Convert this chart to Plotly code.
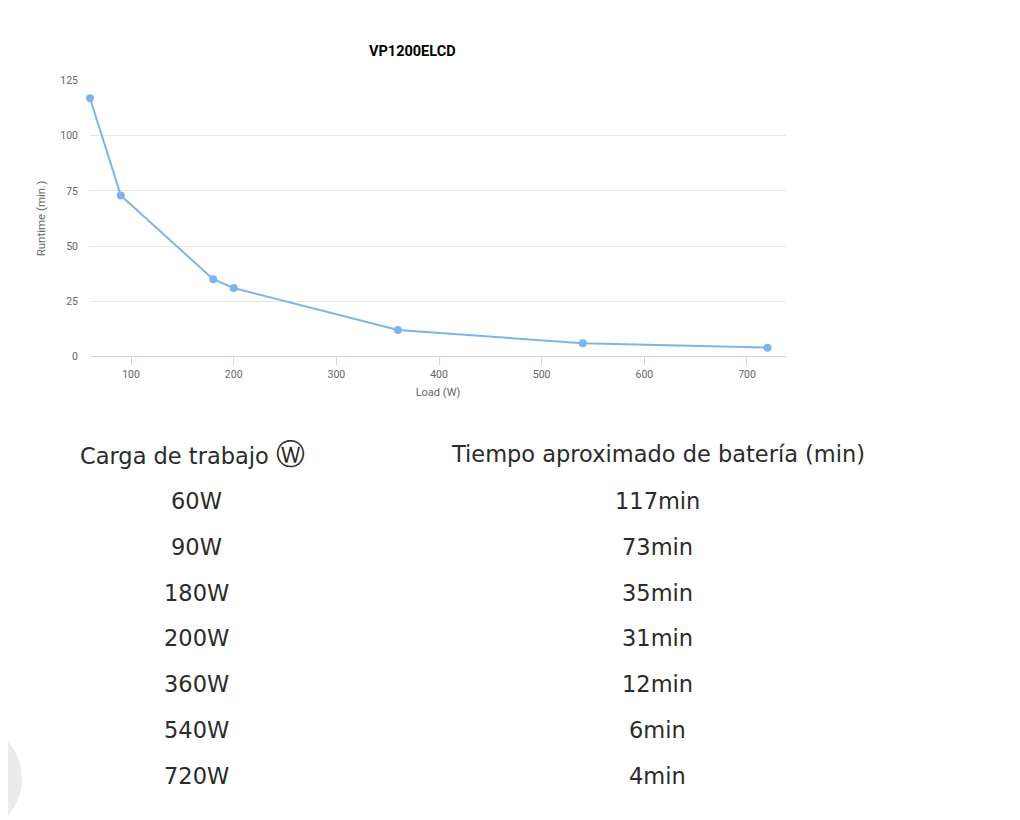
import plotly.graph_objects as go

title = "VP1200ELCD"
load_w = [60, 90, 180, 200, 360, 540, 720]
runtime_min = [117, 73, 35, 31, 12, 6, 4]
y_ticks = [0, 25, 50, 75, 100, 125]
x_ticks = [100, 200, 300, 400, 500, 600, 700]
header_left = "Carga de trabajo"
header_icon = "Ⓦ"
header_right = "Tiempo aproximado de batería (min)"
row_left = [f"{w}W" for w in load_w]
row_right = [f"{m}min" for m in runtime_min]

W, H = 1020, 820
OFF = 8  # page body margin

def px(x):
    return (x - OFF) / W

def py(y):
    return 1 - (y - OFF) / H

fig = go.Figure()
fig.add_trace(go.Scatter(
    x=load_w, y=runtime_min, mode="lines+markers",
    line=dict(color="#7cb5ec", width=2),
    marker=dict(color="#7cb5ec", size=8),
    cliponaxis=False, showlegend=False,
))

tick_font = dict(family="Roboto", size=10.5, color="#666666")
fig.update_layout(
    width=W, height=H,
    margin=dict(l=0, r=0, t=0, b=0),
    paper_bgcolor="white", plot_bgcolor="white",
    xaxis=dict(
        domain=[px(90), px(786)], range=[60, 738],
        tickvals=x_ticks, ticks="outside", ticklen=8, tickcolor="#ccd6eb",
        showline=True, linecolor="#ccd6eb", linewidth=1,
        showgrid=False, zeroline=False, tickfont=tick_font,
        title=dict(text="Load (W)", font=dict(family="Roboto", size=11, color="#666666"), standoff=8),
    ),
    yaxis=dict(
        domain=[py(356), py(75.7)], range=[0, 125],
        tickvals=y_ticks, showgrid=True, gridcolor="#e6e6e6", gridwidth=1,
        zeroline=False, showline=False, tickfont=tick_font, ticklabelstandoff=11,
        title=dict(text="Runtime (min.)", font=dict(family="Roboto", size=11.5, color="#666666"), standoff=12),
    ),
    font=dict(family="Roboto"),
)

fig.add_annotation(
    x=px(412), y=py(46), xref="paper", yref="paper", showarrow=False,
    text=f"<b>{title}</b>", font=dict(family="Roboto", size=14.5, color="#000000"),
    xanchor="center", yanchor="middle",
)

tfont = dict(family="DejaVu Sans", size=22.5, color="#2b2b2b")
fig.add_annotation(x=px(78), y=py(455), xref="paper", yref="paper", showarrow=False,
                   text=f"{header_left} <span style='font-size:29px'>{header_icon}</span>",
                   font=tfont, xanchor="left", yanchor="middle")
fig.add_annotation(x=px(658), y=py(455), xref="paper", yref="paper", showarrow=False,
                   text=header_right, font=tfont, xanchor="center", yanchor="middle")
for i, (a, b) in enumerate(zip(row_left, row_right)):
    yy = 503 + i * 46.5
    fig.add_annotation(x=px(196), y=py(yy), xref="paper", yref="paper", showarrow=False,
                       text=a, font=tfont, xanchor="center", yanchor="middle")
    fig.add_annotation(x=px(657), y=py(yy), xref="paper", yref="paper", showarrow=False,
                       text=b, font=tfont, xanchor="center", yanchor="middle")

fig.add_shape(type="circle", xref="paper", yref="paper",
              x0=px(-92), x1=px(22), y0=py(728), y1=py(842),
              fillcolor="#ebebeb", line=dict(width=0), layer="below")

fig.write_html("out.html")
